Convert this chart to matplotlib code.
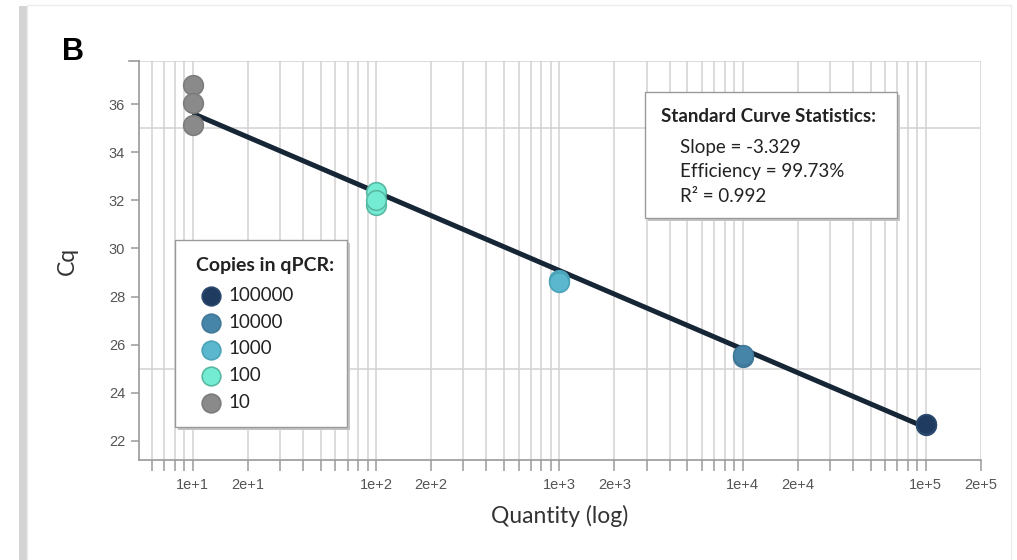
import numpy as np
import matplotlib.pyplot as plt
from matplotlib.patches import Rectangle
from matplotlib.ticker import FixedLocator, FixedFormatter, NullFormatter

# Données
groupes = ['100000', '10000', '1000', '100', '10']
couleurs = ['#1f3b60', '#4785a8', '#5bb7cd', '#74ecd3', '#8a8a8a']
bords = ['#2c4a6e', '#3f7898', '#4aa3b8', '#58b9a3', '#7c7c7c']

qte_10 = [10, 10, 10]
cq_10 = [36.8, 36.05, 35.15]
qte_100 = [100, 100, 100]
cq_100 = [32.35, 31.8, 32.0]
qte_1000 = [1000, 1000]
cq_1000 = [28.7, 28.6]
qte_10000 = [10000, 10000]
cq_10000 = [25.5, 25.55]
qte_100000 = [100000, 100000]
cq_100000 = [22.65, 22.7]

# droite de régression (extrémités)
fit_x = [10, 100000]
fit_y = [35.62, 22.55]

stats = ['Slope = -3.329', 'Efficiency = 99.73%', 'R\u00b2 = 0.992']

major_x = [10, 20, 100, 200, 1000, 2000, 10000, 20000, 100000, 200000]
major_lab = ['1e+1', '2e+1', '1e+2', '2e+2', '1e+3', '2e+3', '1e+4', '2e+4', '1e+5', '2e+5']
minor_x = [m * 10.0 ** k for k in range(0, 5) for m in range(3, 10)]
minor_x = [v for v in minor_x if v >= 5]
y_ticks = [22, 24, 26, 28, 30, 32, 34, 36]
y_grid = [25, 30, 35]

W, H = 1017, 560
fig = plt.figure(figsize=(W / 100, H / 100), dpi=100)
fig.patch.set_facecolor('white')


def boite(x0, y0, x1, y1):
    # cadre blanc avec ombre, en pixels (origine en haut à gauche)
    fig.patches.append(Rectangle(((x0 + 3) / W, 1 - (y1 + 3) / H), (x1 - x0) / W,
                                 (y1 - y0) / H, transform=fig.transFigure,
                                 facecolor='#c4c4c4', edgecolor='none', zorder=5))
    fig.patches.append(Rectangle((x0 / W, 1 - y1 / H), (x1 - x0) / W, (y1 - y0) / H,
                                 transform=fig.transFigure, facecolor='white',
                                 edgecolor='#9a9a9a', lw=1, zorder=6))


# carte avec ombre à gauche
fig.patches.append(Rectangle((19 / W, 0), 9 / W, 1 - 6 / H, transform=fig.transFigure,
                             facecolor='#d4d4d4', edgecolor='none', zorder=-2))
fig.patches.append(Rectangle((27 / W, -0.01), (1011 - 27) / W, 1 - 5 / H + 0.01,
                             transform=fig.transFigure, facecolor='white',
                             edgecolor='#ececec', lw=1, zorder=-1))

ax = fig.add_axes([139 / W, 1 - 460 / H, (981 - 139) / W, (460 - 61) / H])
ax.set_facecolor('none')
ax.set_xscale('log')
ax.set_xlim(5.1, 200000)
ax.set_ylim(21.2, 37.8)

ax.xaxis.set_major_locator(FixedLocator(major_x))
ax.xaxis.set_major_formatter(FixedFormatter(major_lab))
ax.xaxis.set_minor_locator(FixedLocator(minor_x))
ax.xaxis.set_minor_formatter(NullFormatter())
ax.yaxis.set_major_locator(FixedLocator(y_ticks))
ax.yaxis.set_minor_locator(FixedLocator(y_grid + [37.8]))

ax.grid(True, which='both', axis='x', color='#d2d2d2', lw=1.1)
ax.grid(True, which='minor', axis='y', color='#d2d2d2', lw=1.1)
ax.grid(False, which='major', axis='y')
ax.set_axisbelow(True)

for s in ['top', 'right']:
    ax.spines[s].set_visible(False)
for s in ['left', 'bottom']:
    ax.spines[s].set_color('#9a9a9a')
    ax.spines[s].set_linewidth(1.2)

ax.tick_params(axis='x', which='both', length=8, width=1.1, color='#9a9a9a',
               labelsize=10.5, labelcolor='#555555', pad=5)
ax.tick_params(axis='y', which='major', length=6, width=1.1, color='#9a9a9a',
               labelsize=10.5, labelcolor='#555555', pad=4)
ax.tick_params(axis='y', which='minor', length=0)
for t in ax.get_xticklabels() + ax.get_yticklabels():
    t.set_fontfamily('Liberation Sans')
# petit trait au sommet de l'axe y
ax.plot([0, -0.012], [1, 1], transform=ax.transAxes, color='#9a9a9a', lw=1.2,
        clip_on=False)

ax.plot(fit_x, fit_y, color='#172636', lw=3.6, solid_capstyle='butt', zorder=3)

series = [(qte_100000, cq_100000), (qte_10000, cq_10000), (qte_1000, cq_1000),
          (qte_100, cq_100), (qte_10, cq_10)]
handles = []
for (xs, ys), lab, c, e in zip(series, groupes, couleurs, bords):
    h = ax.scatter(xs, ys, s=200, color=c, edgecolors=e, linewidths=1.2,
                   zorder=4, label=lab)
    handles.append(h)

ax.set_xlabel('Quantity (log)', fontfamily='Lato', fontsize=16.5, color='#333333',
              labelpad=9)
ax.set_ylabel('Cq', fontfamily='Lato', fontsize=16.5, color='#333333', labelpad=22)

# légende : cadre dessiné à part, entrées via fig.legend
boite(175, 240, 347, 427)
fig.text(196 / W, 1 - 265 / H, 'Copies in qPCR:', fontfamily='Lato', fontsize=14,
         fontweight='bold', color='#222222', va='center', zorder=7)
leg = fig.legend(handles=handles, loc='upper left',
                 bbox_to_anchor=(201.5 / W, 1 - 287 / H), bbox_transform=fig.transFigure,
                 frameon=False, prop={'family': 'Lato', 'size': 13.5}, markerscale=0.95,
                 handletextpad=0.46, labelspacing=0.52, borderpad=0,
                 handlelength=1.0, borderaxespad=0)
for t in leg.get_texts():
    t.set_color('#222222')
leg.set_zorder(8)

# encadré des statistiques
boite(645, 92, 897, 218)
fig.text(661 / W, 1 - 117 / H, 'Standard Curve Statistics:', fontfamily='Lato',
         fontsize=13.5, fontweight='bold', color='#222222', va='center', zorder=7)
for i, s in enumerate(stats):
    fig.text(680 / W, 1 - (148 + 24 * i) / H, s, fontfamily='Lato', fontsize=13.5,
             color='#222222', va='center', zorder=7)

fig.text(62 / W, 1 - 52 / H, 'B', fontfamily='Liberation Sans', fontsize=22,
         fontweight='bold', va='center', ha='left')

fig.savefig('out.png', dpi=100)
